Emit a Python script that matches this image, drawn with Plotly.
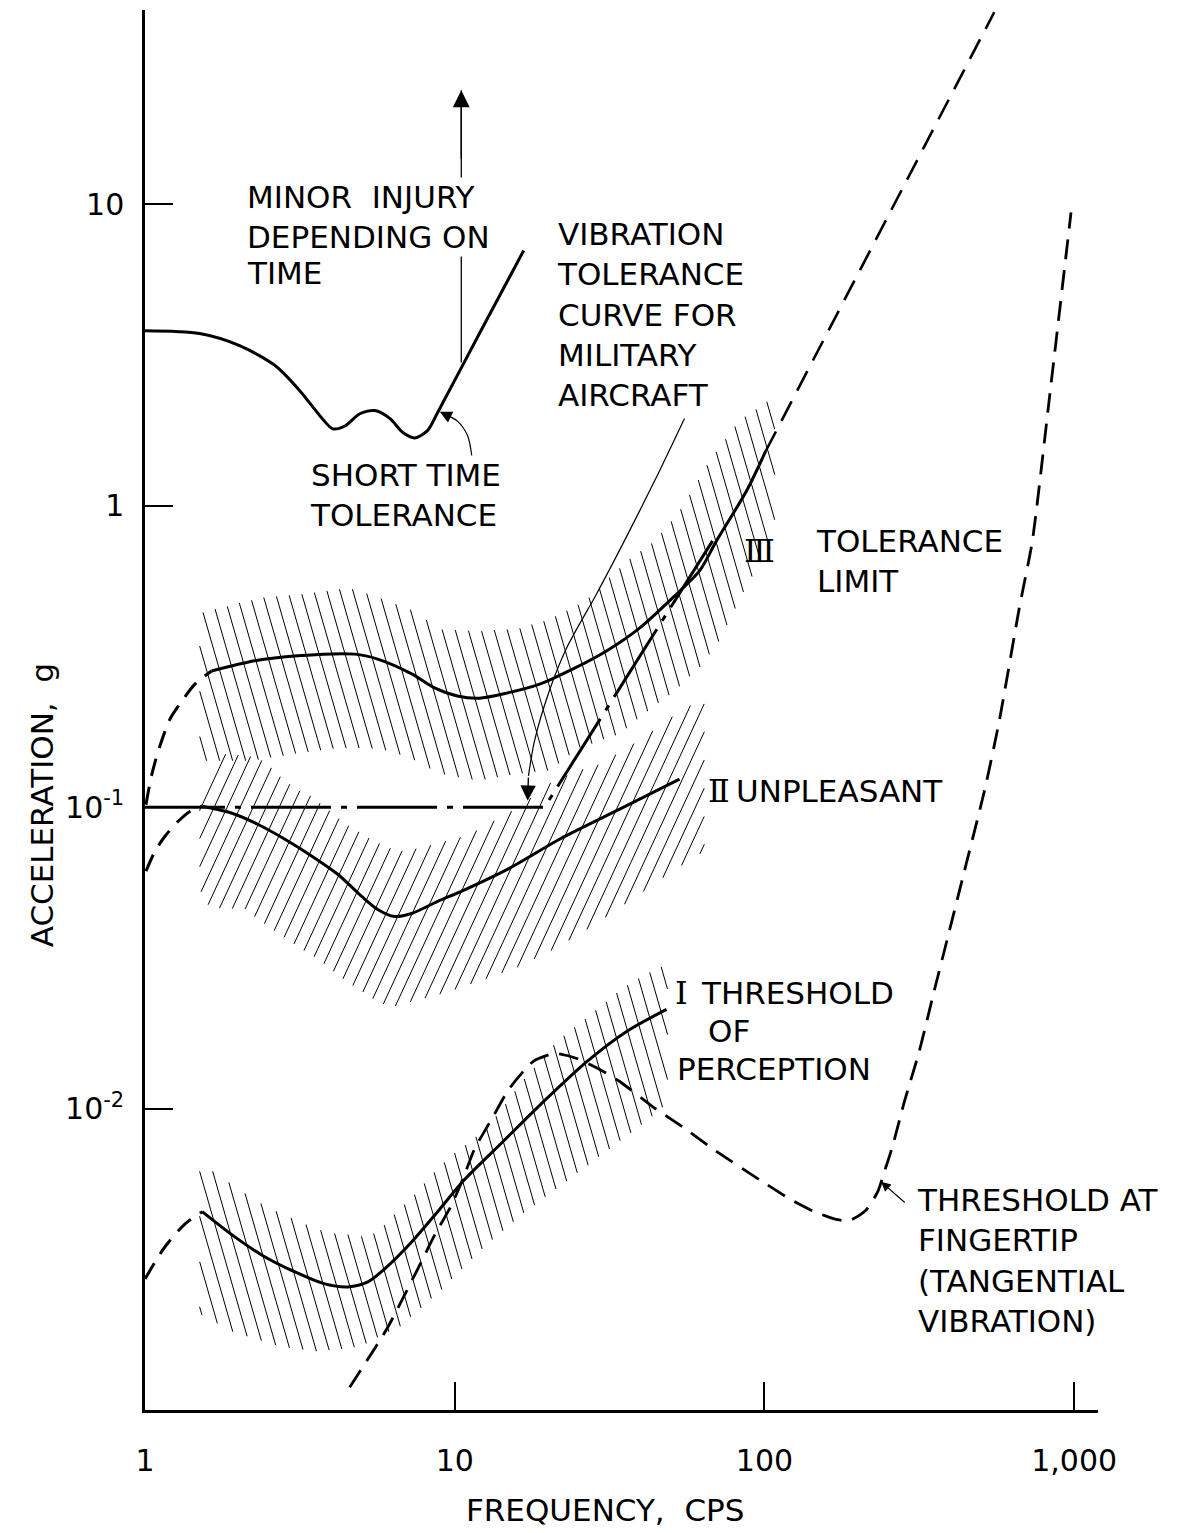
import numpy as np
import plotly.graph_objects as go

FONT = "DejaVu Sans"
NUMFONT = "DejaVu Serif"

# ---------------- data (frequency in cps, acceleration in g) ----------------
short_f = [1.0, 1.50, 2.02, 2.63, 3.16, 3.67, 4.04, 4.42, 4.94, 5.52, 6.17, 6.80, 7.43, 8.18, 8.81, 12.1, 16.7]
short_v = [3.81, 3.73, 3.40, 2.92, 2.41, 1.99, 1.80, 1.84, 2.02, 2.07, 1.95, 1.75, 1.68, 1.78, 2.04, 3.78, 7.03]

injury_f = [10.5, 10.5]
injury_v = [2.99, 23.9]

tol_f = [1.64, 2.26, 3.11, 4.76, 5.64, 7.26, 8.61, 10.2, 12.0, 14.7, 18.8, 24.0, 30.9, 39.5, 50.5, 61.7, 70.0, 87.5, 101]
tol_v = [0.283, 0.306, 0.318, 0.322, 0.310, 0.277, 0.249, 0.234, 0.230, 0.239, 0.256, 0.287, 0.330, 0.393, 0.495, 0.608, 0.765, 1.12, 1.52]
tol_ext_f = [101, 552]
tol_ext_v = [1.52, 43.4]
tol_left_f = [1.007, 1.053, 1.118, 1.204, 1.316, 1.449, 1.64]
tol_left_v = [0.102, 0.129, 0.160, 0.196, 0.225, 0.256, 0.283]

unp_f = [1.53, 1.91, 2.31, 2.83, 3.46, 4.19, 5.01, 5.64, 6.40, 7.26, 8.81, 10.5, 15.0, 21.8, 34.1, 53.2]
unp_v = [0.1007, 0.0955, 0.0878, 0.0783, 0.0688, 0.0599, 0.0506, 0.0458, 0.0434, 0.0444, 0.0487, 0.0526, 0.0627, 0.0783, 0.0985, 0.124]
unp_left_f = [1.007, 1.077, 1.16, 1.28, 1.40, 1.53]
unp_left_v = [0.0613, 0.0714, 0.0801, 0.0898, 0.0970, 0.1007]

thr_f = [1.53, 1.91, 2.38, 3.05, 3.81, 4.52, 5.24, 5.94, 7.26, 8.81, 10.6, 14.3, 19.8, 26.7, 35.9, 48.3]
thr_v = [0.00455, 0.00381, 0.00327, 0.00287, 0.00262, 0.00256, 0.00266, 0.00294, 0.00361, 0.00455, 0.00572, 0.00776, 0.01079, 0.01432, 0.01803, 0.02133]
thr_left_f = [1.0, 1.16, 1.35, 1.53]
thr_left_v = [0.00272, 0.00348, 0.00415, 0.00455]

finger_f = [4.58, 6.04, 7.60, 8.62, 9.78, 10.6, 11.6, 13.2, 15.0, 17.9, 21.0, 24.8, 29.4, 34.1, 43.5, 54.3, 68.0,
            98.6, 120.5, 145, 172, 188, 213, 232, 244, 259, 283, 316, 353, 395, 442, 513, 573, 665, 733, 830, 977]
finger_v = [0.00119, 0.00186, 0.00294, 0.00381, 0.00480, 0.00581, 0.00736, 0.00927, 0.01165, 0.01432, 0.01523,
            0.01466, 0.01348, 0.01230, 0.01016, 0.00871, 0.00736, 0.00572, 0.00502, 0.00455, 0.00428, 0.00425,
            0.00461, 0.00529, 0.00618, 0.00748, 0.01054, 0.01546, 0.0245, 0.0387, 0.0613, 0.113, 0.193, 0.458,
            0.765, 2.23, 9.41]

mil_f = [1.0, 19.5, 68.0]
mil_v = [0.1, 0.1, 0.765]

mil_lead_f = [55.2, 44.2, 35.3, 28.7, 23.0, 20.2, 18.1, 17.3]
mil_lead_v = [1.95, 1.21, 0.765, 0.510, 0.338, 0.243, 0.166, 0.127]

short_lead_f = [11.35, 11.0, 10.2, 9.29]
short_lead_v = [1.47, 1.71, 1.91, 2.01]

# hatched scatter bands: upper and lower boundaries
band3_uf = [1.50, 2.35, 3.16, 4.58, 5.73, 7.16, 8.95, 12.0, 16.2, 20.2, 26.3, 35.9, 44.2, 53.2, 66.5, 83.0, 108]
band3_uv = [0.441, 0.495, 0.510, 0.534, 0.495, 0.455, 0.390, 0.384, 0.393, 0.421, 0.483, 0.657, 0.765, 0.962, 1.41, 1.92, 2.32]
band3_lf = [1.50, 2.18, 3.16, 4.26, 5.73, 7.16, 8.95, 12.0, 16.2, 20.2, 25.3, 34.1, 39.5, 51.3, 61.7, 71.6, 80.0, 89.5, 108]
band3_lv = [0.142, 0.142, 0.151, 0.157, 0.156, 0.146, 0.129, 0.122, 0.129, 0.132, 0.157, 0.175, 0.198, 0.243, 0.290, 0.356, 0.448, 0.564, 0.765]

band2_uf = [1.50, 1.81, 2.18, 2.44, 2.79, 3.09, 3.46, 4.42, 5.40, 6.50, 7.54, 10.2, 12.0, 16.2, 20.2, 24.8, 29.4, 35.9, 43.5, 53.2, 64.0]
band2_uv = [0.113, 0.150, 0.148, 0.142, 0.124, 0.115, 0.109, 0.0885, 0.0783, 0.0714, 0.0731, 0.0789, 0.0845, 0.1007, 0.120, 0.132, 0.139, 0.157, 0.179, 0.208, 0.230]
band2_lf = [1.50, 1.62, 2.10, 2.49, 3.00, 3.61, 4.32, 5.20, 5.73, 6.40, 7.32, 8.61, 10.0, 12.0, 16.2, 21.8, 29.4, 39.5, 49.4, 64.0]
band2_lv = [0.0534, 0.0462, 0.0458, 0.0402, 0.0353, 0.0313, 0.0270, 0.0239, 0.0223, 0.0218, 0.0227, 0.0236, 0.0248, 0.0264, 0.0296, 0.0345, 0.0418, 0.0514, 0.0604, 0.0714]

band1_uf = [1.50, 1.91, 2.40, 3.05, 3.81, 4.65, 5.13, 5.60, 6.04, 6.55, 7.16, 8.30, 9.78, 12.7, 16.2, 21.3, 27.3, 34.8, 41.6, 48.7]
band1_uv = [0.00667, 0.00560, 0.00480, 0.00428, 0.00390, 0.00381, 0.00376, 0.00390, 0.00421, 0.00461, 0.00499, 0.00594, 0.00703, 0.00859, 0.01202, 0.01671, 0.0205, 0.0251, 0.0281, 0.0303]
band1_lf = [1.50, 1.91, 2.73, 3.67, 4.94, 6.65, 8.95, 12.0, 16.2, 21.8, 29.4, 39.5, 48.7]
band1_lv = [0.00208, 0.00182, 0.00162, 0.00156, 0.00162, 0.00189, 0.00247, 0.00335, 0.00438, 0.00551, 0.00693, 0.00871, 0.0104]

x_tickvals = [1, 10, 100, 1000]
x_ticktext = ["1", "10", "100", "1,000"]
y_tickvals = [10, 1, 0.1, 0.01]
y_ticktext = ["10", "1", "10<sup>-1</sup>", "10<sup>-2</sup>"]


# ---------------- helpers ----------------
def hatch(uf, uv, lf, lv, direction, spacing=0.042, slant=0.3):
    xu, yu = np.log10(uf), np.log10(uv)
    xl, yl = np.log10(lf), np.log10(lv)
    xmin = max(xu.min(), xl.min())
    xmax = min(xu.max(), xl.max())
    ymin, ymax = yl.min(), yu.max()
    ys = np.linspace(ymax, ymin, 700)
    span = slant * (ymax - ymin)
    if direction == "\\":
        cs = np.arange(xmin - span, xmax, spacing)
    else:
        cs = np.arange(xmin, xmax + span, spacing)
    hx, hy = [], []
    for c in cs:
        if direction == "\\":
            lx = c + slant * (ymax - ys)
        else:
            lx = c - slant * (ymax - ys)
        inside = (lx >= xmin) & (lx <= xmax)
        inside &= ys <= np.interp(lx, xu, yu)
        inside &= ys >= np.interp(lx, xl, yl)
        idx = np.flatnonzero(inside)
        if idx.size < 2:
            continue
        breaks = np.flatnonzero(np.diff(idx) > 1)
        starts = np.concatenate([[idx[0]], idx[breaks + 1]])
        ends = np.concatenate([idx[breaks], [idx[-1]]])
        for s, e in zip(starts, ends):
            if e - s < 2:
                continue
            hx += [10 ** lx[s], 10 ** lx[e], None]
            hy += [10 ** ys[s], 10 ** ys[e], None]
    return hx, hy


fig = go.Figure()

for uf, uv, lf, lv, d, sl in [
    (band3_uf, band3_uv, band3_lf, band3_lv, "\\", 0.28),
    (band2_uf, band2_uv, band2_lf, band2_lv, "/", 0.45),
    (band1_uf, band1_uv, band1_lf, band1_lv, "\\", 0.28),
]:
    hx, hy = hatch(uf, uv, lf, lv, d, slant=sl)
    fig.add_trace(go.Scatter(x=hx, y=hy, mode="lines", line=dict(color="black", width=1), hoverinfo="skip"))

SOLID = dict(color="black", width=3, shape="spline", smoothing=0.8)
DASH = dict(color="black", width=3, dash="18px,11px", shape="spline", smoothing=0.8)

def line(x, y, style):
    fig.add_trace(go.Scatter(x=x, y=y, mode="lines", line=style, hoverinfo="skip"))

line(short_f, short_v, SOLID)
line(injury_f, injury_v, dict(color="black", width=1.3))
line(tol_f, tol_v, SOLID)
line(tol_ext_f, tol_ext_v, dict(color="black", width=2.6, dash="22px,12px"))
line(tol_left_f, tol_left_v, DASH)
line(unp_f, unp_v, SOLID)
line(unp_left_f, unp_left_v, DASH)
line(thr_f, thr_v, SOLID)
line(thr_left_f, thr_left_v, DASH)
line(finger_f, finger_v, dict(color="black", width=2.8, dash="20px,11px", shape="spline", smoothing=0.6))
line(mil_f, mil_v, dict(color="black", width=3, dash="80px,10px,6px,10px"))
line(mil_lead_f, mil_lead_v, dict(color="black", width=1.2, shape="spline", smoothing=0.8))
line(short_lead_f, short_lead_v, dict(color="black", width=1.2, shape="spline", smoothing=0.8))

L = np.log10
ann = []

def arrow(tip_f, tip_v, tail_f, tail_v, size=2.0, width=1.4, head=2):
    ann.append(dict(x=L(tip_f), y=L(tip_v), ax=L(tail_f), ay=L(tail_v), xref="x", yref="y",
                    axref="x", ayref="y", showarrow=True, arrowhead=head, arrowsize=size,
                    arrowwidth=width, arrowcolor="black", text=""))

def text(t, x, y, size=31, xanchor="left", align="left", bg=None, family=FONT):
    d = dict(text=t, x=x, y=y, xref="x", yref="y", showarrow=False, xanchor=xanchor,
             yanchor="middle", align=align, font=dict(family=family, size=size, color="black"))
    if bg:
        d["bgcolor"] = bg
    ann.append(d)

arrow(10.5, 23.9, 10.5, 14.0, size=2.4, width=1.4)
arrow(17.2, 0.105, 17.3, 0.127, size=2.2, width=1.4)
arrow(8.95, 2.05, 9.6, 1.98, size=2.0, width=1.2)
arrow(238, 0.00572, 287, 0.00483, size=1.6, width=1.2, head=2)

text("MINOR  INJURY<br>DEPENDING ON", 0.323, 0.957, bg="white")
text("TIME", 0.323, 0.771)
text("VIBRATION<br>TOLERANCE<br>CURVE FOR<br>MILITARY<br>AIRCRAFT", 1.323, 0.635)
text("SHORT TIME<br>TOLERANCE", 0.526, 0.0365)
text("Ⅲ", 1.984, -0.150, xanchor="center", family=NUMFONT, size=32)
text("TOLERANCE<br>LIMIT", 2.161, -0.183)
text("Ⅱ", 1.852, -0.947, xanchor="center", family=NUMFONT, size=32)
text("UNPLEASANT", 1.903, -0.947)
text("Ⅰ", 1.732, -1.618, xanchor="center", family=NUMFONT, size=32)
text("THRESHOLD", 1.790, -1.618)
text("OF", 1.885, -1.744, xanchor="center")
text("PERCEPTION", 1.710, -1.867)
text("THRESHOLD AT<br>FINGERTIP<br>(TANGENTIAL<br>VIBRATION)", 2.487, -2.505)

ann.append(dict(text="FREQUENCY,  CPS", x=0.483, y=-0.0714, xref="paper", yref="paper",
                showarrow=False, xanchor="center", yanchor="middle",
                font=dict(family=FONT, size=31, color="black")))
ann.append(dict(text="ACCELERATION,  g", x=-0.108, y=0.432, xref="paper", yref="paper",
                showarrow=False, xanchor="center", yanchor="middle", textangle=-90,
                font=dict(family=FONT, size=31, color="black")))

fig.update_layout(
    width=1187, height=1533,
    margin=dict(l=145, r=89, t=10, b=123),
    paper_bgcolor="white", plot_bgcolor="white",
    showlegend=False,
    annotations=ann,
    font=dict(family=FONT, color="black"),
)
fig.update_xaxes(type="log", range=[0, 3.077], showgrid=False, zeroline=False,
                 showline=True, linecolor="black", linewidth=2.5,
                 ticks="inside", ticklen=28, tickwidth=2, tickcolor="black",
                 tickvals=x_tickvals, ticktext=x_ticktext, ticklabelstandoff=22,
                 tickfont=dict(family=FONT, size=30, color="black"))
fig.update_yaxes(type="log", range=[-3.0, 1.645], showgrid=False, zeroline=False,
                 showline=True, linecolor="black", linewidth=2.5,
                 ticks="inside", ticklen=28, tickwidth=2, tickcolor="black",
                 tickvals=y_tickvals, ticktext=y_ticktext, ticklabelstandoff=12,
                 tickfont=dict(family=FONT, size=30, color="black"))

fig.write_html("out.html")
